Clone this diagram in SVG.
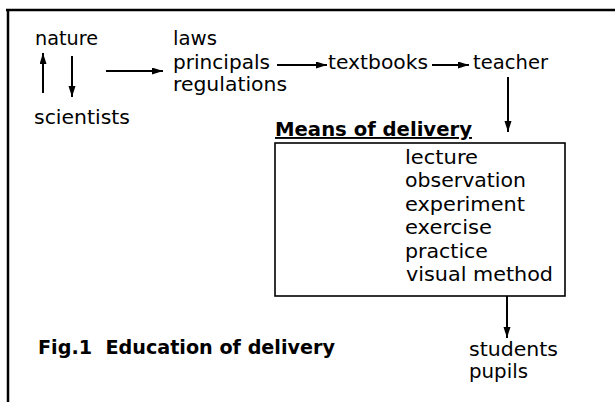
<svg xmlns="http://www.w3.org/2000/svg" width="615" height="402" viewBox="0 0 615 402">
  <style>
    .t { font-family: "DejaVu Sans", "Liberation Sans", sans-serif; font-size: 19px; fill: #000; }
    .b { font-family: "DejaVu Sans", "Liberation Sans", sans-serif; font-size: 19px; font-weight: bold; fill: #000; }
    .frame { stroke: #000; stroke-width: 2.5; fill: none; }
    .box { stroke: #000; stroke-width: 1.6; fill: none; }
    .c { stroke: #000; stroke-width: 2; fill: none; marker-end: url(#ah); }
  </style>
  <defs>
    <marker id="ah" markerUnits="userSpaceOnUse" markerWidth="12" markerHeight="8" refX="11" refY="3.5" orient="auto">
      <path d="M0,0 L11,3.5 L0,7 z" fill="#000"/>
    </marker>
  </defs>
  <rect width="615" height="402" fill="#fff"/>
  <g id="frame">
    <line class="frame" x1="6" y1="10" x2="615" y2="10"/>
    <line class="frame" x1="8" y1="9" x2="8" y2="402"/>
  </g>
  <g id="nature">
    <text class="t" x="35" y="45" textLength="63" lengthAdjust="spacingAndGlyphs">nature</text>
  </g>
  <g id="scientists">
    <text class="t" x="34" y="124" textLength="96" lengthAdjust="spacingAndGlyphs">scientists</text>
  </g>
  <g id="laws">
    <text class="t" x="173" y="45" textLength="44" lengthAdjust="spacingAndGlyphs">laws</text>
    <text class="t" x="173" y="69" textLength="97" lengthAdjust="spacingAndGlyphs">principals</text>
    <text class="t" x="173" y="91" textLength="114" lengthAdjust="spacingAndGlyphs">regulations</text>
  </g>
  <g id="textbooks">
    <text class="t" x="328" y="69" textLength="100" lengthAdjust="spacingAndGlyphs">textbooks</text>
  </g>
  <g id="teacher">
    <text class="t" x="473" y="69" textLength="75" lengthAdjust="spacingAndGlyphs">teacher</text>
  </g>
  <g id="means">
    <text class="b" x="275" y="136" textLength="197" lengthAdjust="spacingAndGlyphs" text-decoration="underline">Means of delivery</text>
    <rect class="box" x="275" y="143" width="290" height="153"/>
    <text class="t" x="405" y="164" textLength="73" lengthAdjust="spacingAndGlyphs">lecture</text>
    <text class="t" x="405" y="187.4" textLength="121" lengthAdjust="spacingAndGlyphs">observation</text>
    <text class="t" x="405" y="210.8" textLength="120" lengthAdjust="spacingAndGlyphs">experiment</text>
    <text class="t" x="405" y="234.2" textLength="87" lengthAdjust="spacingAndGlyphs">exercise</text>
    <text class="t" x="405" y="257.6" textLength="83" lengthAdjust="spacingAndGlyphs">practice</text>
    <text class="t" x="406" y="281" textLength="147" lengthAdjust="spacingAndGlyphs">visual method</text>
  </g>
  <g id="students">
    <text class="t" x="469" y="356" textLength="89" lengthAdjust="spacingAndGlyphs">students</text>
    <text class="t" x="469" y="378" textLength="59" lengthAdjust="spacingAndGlyphs">pupils</text>
  </g>
  <g id="caption">
    <text class="b" x="38" y="354" textLength="297" lengthAdjust="spacingAndGlyphs" xml:space="preserve">Fig.1  Education of delivery</text>
  </g>
  <g id="connectors">
    <line class="c" x1="43" y1="93" x2="43" y2="53"/>
    <line class="c" x1="72" y1="56" x2="72" y2="97"/>
    <line class="c" x1="106" y1="71" x2="163" y2="71"/>
    <line class="c" x1="277" y1="65" x2="327" y2="65"/>
    <line class="c" x1="432" y1="65" x2="469" y2="65"/>
    <line class="c" x1="508" y1="77" x2="508" y2="132"/>
    <line class="c" x1="507" y1="296" x2="507" y2="338"/>
  </g>
</svg>
